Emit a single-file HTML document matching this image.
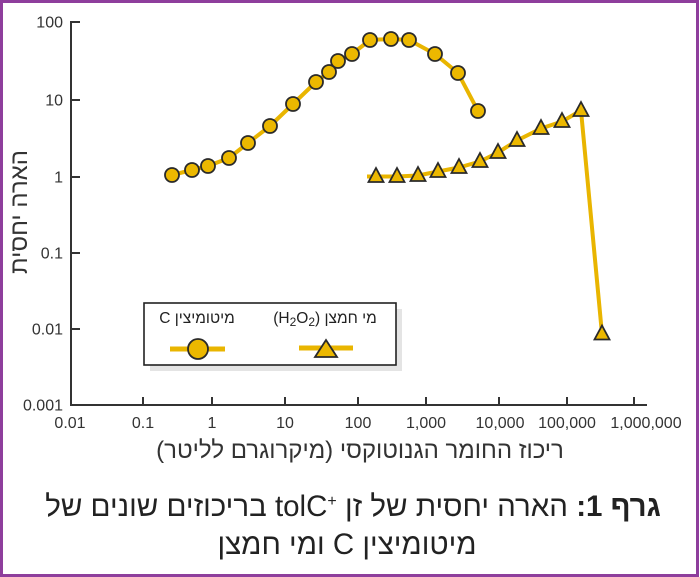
<!DOCTYPE html>
<html lang="he">
<head>
<meta charset="utf-8">
<style>
  html,body{margin:0;padding:0;background:#fff;}
  #wrap{position:relative;width:700px;height:577px;background:#fff;overflow:hidden;}
  svg{position:absolute;left:0;top:0;}
  .t{position:absolute;white-space:nowrap;text-align:center;font-family:"Liberation Sans","DejaVu Sans",sans-serif;direction:rtl;}
  .ltr{unicode-bidi:isolate;direction:ltr;}
</style>
</head>
<body>
<div id="wrap">
<svg width="700" height="577" viewBox="0 0 700 577" xmlns="http://www.w3.org/2000/svg">
  <rect x="1.5" y="1.5" width="696" height="574" fill="none" stroke="#8E3E9C" stroke-width="3"/>

  <g stroke="#333" stroke-width="2" fill="none">
    <line x1="71" y1="21" x2="71" y2="406"/>
    <line x1="70" y1="405" x2="647" y2="405"/>
    <line x1="71" y1="22" x2="80" y2="22"/>
    <line x1="71" y1="100" x2="80" y2="100"/>
    <line x1="71" y1="177" x2="80" y2="177"/>
    <line x1="71" y1="253" x2="80" y2="253"/>
    <line x1="71" y1="329" x2="80" y2="329"/>
    <line x1="143" y1="405" x2="143" y2="397"/>
    <line x1="212" y1="405" x2="212" y2="397"/>
    <line x1="285" y1="405" x2="285" y2="397"/>
    <line x1="358" y1="405" x2="358" y2="397"/>
    <line x1="426" y1="405" x2="426" y2="397"/>
    <line x1="499" y1="405" x2="499" y2="397"/>
    <line x1="567" y1="405" x2="567" y2="397"/>
    <line x1="634" y1="405" x2="634" y2="397"/>
  </g>

  <g font-family="Liberation Sans, Arial, sans-serif" font-size="16" fill="#333">
    <g text-anchor="end">
      <text x="63" y="27.5">100</text>
      <text x="63" y="105.5">10</text>
      <text x="63" y="182.5">1</text>
      <text x="63" y="258.5">0.1</text>
      <text x="63" y="334.5">0.01</text>
      <text x="63" y="410.5">0.001</text>
    </g>
    <g text-anchor="middle">
      <text x="70" y="428">0.01</text>
      <text x="143" y="428">0.1</text>
      <text x="212" y="428">1</text>
      <text x="285" y="428">10</text>
      <text x="358" y="428">100</text>
      <text x="426" y="428">1,000</text>
      <text x="500" y="428">10,000</text>
      <text x="567" y="428">100,000</text>
      <text x="646" y="428">1,000,000</text>
    </g>
  </g>

  <polyline fill="none" stroke="#E9B500" stroke-width="4" stroke-linejoin="round" stroke-linecap="round"
    points="172,175 192,170 208,166 229,158 248,143 270,126 293,104 316,82 329,72 338,61 352,54 370,40 391,39 409,40 435,54 458,73 478,111"/>
  <g fill="#ECB800" stroke="#2a2a2a" stroke-width="1.8">
    <circle cx="172" cy="175" r="7"/>
    <circle cx="192" cy="170" r="7"/>
    <circle cx="208" cy="166" r="7"/>
    <circle cx="229" cy="158" r="7"/>
    <circle cx="248" cy="143" r="7"/>
    <circle cx="270" cy="126" r="7"/>
    <circle cx="293" cy="104" r="7"/>
    <circle cx="316" cy="82" r="7"/>
    <circle cx="329" cy="72" r="7"/>
    <circle cx="338" cy="61" r="7"/>
    <circle cx="352" cy="54" r="7"/>
    <circle cx="370" cy="40" r="7"/>
    <circle cx="391" cy="39" r="7"/>
    <circle cx="409" cy="40" r="7"/>
    <circle cx="435" cy="54" r="7"/>
    <circle cx="458" cy="73" r="7"/>
    <circle cx="478" cy="111" r="7"/>
  </g>

  <polyline fill="none" stroke="#E9B500" stroke-width="4" stroke-linejoin="round"
    points="367,176.5 376,176.5 397,176.5 418,175.5 438,171.5 459,167.5 480,161.5 498,152.5 517,140.5 541,128.5 562,121.5 581,110.5 602,334"/>
  <g fill="#ECB800" stroke="#2a2a2a" stroke-width="1.8" stroke-linejoin="miter">
    <polygon points="376,168 383.5,182 368.5,182"/>
    <polygon points="397,168 404.5,182 389.5,182"/>
    <polygon points="418,167 425.5,181 410.5,181"/>
    <polygon points="438,163 445.5,177 430.5,177"/>
    <polygon points="459,159 466.5,173 451.5,173"/>
    <polygon points="480,153 487.5,167 472.5,167"/>
    <polygon points="498,144 505.5,158 490.5,158"/>
    <polygon points="517,132 524.5,146 509.5,146"/>
    <polygon points="541,120 548.5,134 533.5,134"/>
    <polygon points="562,113 569.5,127 554.5,127"/>
    <polygon points="581,102 588.5,116 573.5,116"/>
    <polygon points="602,325.5 609.5,339.5 594.5,339.5"/>
  </g>

  <rect x="150" y="309" width="252" height="62" fill="#e4e4e4"/>
  <rect x="144" y="303" width="252" height="62" fill="#fff" stroke="#222" stroke-width="1.6"/>
  <line x1="170" y1="349" x2="225" y2="349" stroke="#E9B500" stroke-width="5"/>
  <circle cx="198" cy="349" r="10" fill="#ECB800" stroke="#2a2a2a" stroke-width="1.8"/>
  <line x1="299" y1="348" x2="353" y2="348" stroke="#E9B500" stroke-width="5"/>
  <polygon points="326,340 337,357 315,357" fill="#ECB800" stroke="#2a2a2a" stroke-width="1.8"/>
</svg>

<div class="t" style="left:-80px;top:200px;width:200px;height:24px;line-height:24px;font-size:24px;color:#333;transform:rotate(-90deg);">הארה יחסית</div>

<div class="t" style="left:60px;top:439px;width:600px;line-height:24px;font-size:24px;color:#333;">ריכוז החומר הגנוטוקסי (מיקרוגרם לליטר)</div>

<div class="t" style="left:137px;top:311px;width:120px;line-height:16px;font-size:15.5px;color:#222;">מיטומיצין C</div>
<div class="t" style="left:265px;top:311px;width:120px;line-height:16px;font-size:15.5px;color:#222;">מי חמצן (H<sub style="font-size:12px;vertical-align:-3px;line-height:0">2</sub>O<sub style="font-size:12px;vertical-align:-3px;line-height:0">2</sub>)</div>

<div class="t" style="left:0;top:492px;width:706px;line-height:30px;font-size:29.5px;color:#222;"><b>גרף 1:</b> הארה יחסית של זן <span class="ltr">tolC<sup style="font-size:16px;vertical-align:10px;line-height:0">+</sup></span> בריכוזים שונים של</div>
<div class="t" style="left:0;top:530px;width:694px;line-height:30px;font-size:29.5px;color:#222;">מיטומיצין C ומי חמצן</div>
</div>
</body>
</html>
